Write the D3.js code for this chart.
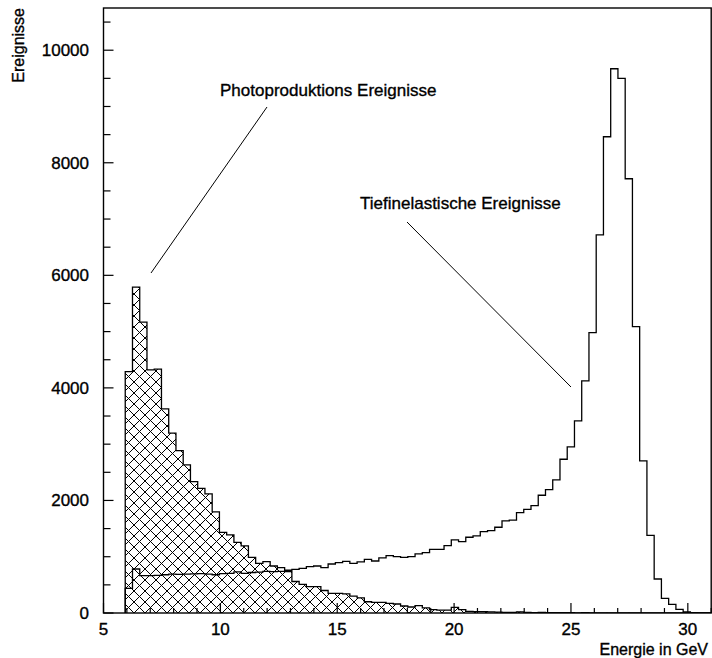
<!DOCTYPE html>
<html>
<head>
<meta charset="utf-8">
<script src="https://cdn.jsdelivr.net/npm/d3@7"></script>
<style>
  body { margin: 0; background: #fff; }
  text { font-family: "Liberation Sans", Arial, Helvetica, sans-serif; fill: #000; stroke: #000; stroke-width: 0.35px; }
</style>
</head>
<body>
<svg id="chart" width="712" height="658"></svg>
<script>
// Histogram binning (GeV)
const binLow = 5.93;
const binWidth = 0.31;

// Photoproduction events per bin (hatched histogram)
const photoproduction = [
  4290, 5790, 5168, 4320, 4332, 3627, 3195, 2886, 2631, 2335,
  2216, 2115, 1796, 1434, 1387, 1256, 1191, 990, 883, 912,
  835, 806, 735, 560, 510, 470, 468, 400, 350, 350,
  340, 300, 270, 200, 190, 190, 172, 160, 124, 107,
  130, 90, 60, 50, 50, 101, 60, 30, 25, 23,
  20, 15, 12, 10, 20, 12, 8, 10, 6, 5,
  8, 5, 4, 5, 3, 4, 3, 2, 2, 3,
  2, 1, 2, 1, 1, 1, 0, 0, 0, 0, 0
];

// Deep inelastic events per bin (open histogram)
const deepInelastic = [
  438, 782, 664, 664, 670, 680, 690, 687, 690, 695,
  700, 690, 680, 700, 705, 730, 705, 720, 725, 740,
  735, 740, 760, 776, 794, 823, 835, 806, 871, 894,
  918, 883, 907, 954, 924, 978, 1019, 1001, 990, 1000,
  1050, 1073, 1132, 1132, 1197, 1298, 1268, 1346, 1369, 1446,
  1463, 1524, 1636, 1650, 1783, 1843, 1908, 2092, 2192, 2364,
  2732, 2951, 3413, 4124, 4983, 6720, 8462, 9671, 9499, 7716,
  5090, 2702, 1381, 604, 261, 155, 66, 18, 8, 4, 2
];

const xTickValues = [5, 10, 15, 20, 25, 30];
const yTickValues = [0, 2000, 4000, 6000, 8000, 10000];
const xLabel = "Energie in GeV";
const yLabel = "Ereignisse";
const photoLabel = "Photoproduktions Ereignisse";
const disLabel = "Tiefinelastische Ereignisse";

const svg = d3.select("#chart");
const frameLeft = 103.5, frameRight = 711.2, frameTop = 8, frameBottom = 613;

const x = d3.scaleLinear().domain([5, 31]).range([frameLeft, frameRight]);
const y = d3.scaleLinear().domain([0, 10750]).range([frameBottom, frameTop]);

// cross-hatch pattern
const hp = 11;
const defs = svg.append("defs");
const pat = defs.append("pattern")
  .attr("id", "xhatch")
  .attr("patternUnits", "userSpaceOnUse")
  .attr("width", hp).attr("height", hp)
  .attr("x", 2).attr("y", frameBottom);
pat.append("path")
  .attr("d", `M0,0L${hp},${hp}M0,${hp}L${hp},0`)
  .attr("stroke", "#000").attr("stroke-width", 1).attr("fill", "none");

function stepPoints(values) {
  const pts = values.map((v, i) => [binLow + i * binWidth, v]);
  pts.push([binLow + values.length * binWidth, values[values.length - 1]]);
  return pts;
}

const clip = defs.append("clipPath").attr("id", "plotclip");
clip.append("rect").attr("x", frameLeft).attr("y", frameTop)
  .attr("width", frameRight - frameLeft).attr("height", frameBottom - frameTop);

const plot = svg.append("g").attr("clip-path", "url(#plotclip)");

// hatched fill of the photoproduction histogram
const area = d3.area()
  .curve(d3.curveStepAfter)
  .x(d => x(d[0])).y0(y(0)).y1(d => y(d[1]));
plot.append("path")
  .attr("d", area(stepPoints(photoproduction)))
  .attr("fill", "url(#xhatch)");

function outline(values) {
  const pts = stepPoints(values);
  const line = d3.line().curve(d3.curveStepAfter).x(d => x(d[0])).y(d => y(d[1]));
  const first = pts[0][0], last = pts[pts.length - 1][0];
  return "M" + x(first) + "," + y(0) + "L" + line(pts).slice(1) + "L" + x(last) + "," + y(0);
}

plot.append("path")
  .attr("d", outline(photoproduction))
  .attr("fill", "none").attr("stroke", "#000").attr("stroke-width", 1.3);
plot.append("path")
  .attr("d", outline(deepInelastic))
  .attr("fill", "none").attr("stroke", "#000").attr("stroke-width", 1.3);

// frame
svg.append("rect")
  .attr("x", frameLeft).attr("y", frameTop)
  .attr("width", frameRight - frameLeft).attr("height", frameBottom - frameTop)
  .attr("fill", "none").attr("stroke", "#000").attr("stroke-width", 1.4);

// x ticks (inside)
const xMinor = d3.range(5, 32, 1);
svg.append("g").selectAll("line").data(xMinor).join("line")
  .attr("x1", d => x(d)).attr("x2", d => x(d))
  .attr("y1", frameBottom).attr("y2", d => frameBottom - (d % 5 === 0 ? 10 : 5))
  .attr("stroke", "#000").attr("stroke-width", 1.2);
svg.append("g").selectAll("text").data(xTickValues).join("text")
  .attr("x", d => x(d)).attr("y", 635)
  .attr("text-anchor", "middle")
  .style("font-size", "17px")
  .text(d => d);

// y ticks (inside)
const yMinor = d3.range(0, 10751, 500);
svg.append("g").selectAll("line").data(yMinor).join("line")
  .attr("x1", frameLeft).attr("x2", d => frameLeft + (d % 2000 === 0 ? 10 : 7))
  .attr("y1", d => y(d)).attr("y2", d => y(d))
  .attr("stroke", "#000").attr("stroke-width", 1.2);
svg.append("g").selectAll("text").data(yTickValues).join("text")
  .attr("x", 89).attr("y", d => y(d) + 6)
  .attr("text-anchor", "end")
  .style("font-size", "17px")
  .text(d => d);

// axis titles
svg.append("text")
  .attr("x", 708).attr("y", 655)
  .attr("text-anchor", "end")
  .style("font-size", "16px")
  .text(xLabel);
svg.append("text")
  .attr("transform", "translate(24,8) rotate(-90)")
  .attr("text-anchor", "end")
  .style("font-size", "16px")
  .text(yLabel);

// annotations
svg.append("text").attr("x", 220).attr("y", 96).style("font-size", "17px").text(photoLabel);
svg.append("line").attr("x1", 267).attr("y1", 107).attr("x2", 151).attr("y2", 273)
  .attr("stroke", "#000").attr("stroke-width", 1);
svg.append("text").attr("x", 360).attr("y", 209).style("font-size", "17px").text(disLabel);
svg.append("line").attr("x1", 407).attr("y1", 222).attr("x2", 571).attr("y2", 387)
  .attr("stroke", "#000").attr("stroke-width", 1);
</script>
</body>
</html>
